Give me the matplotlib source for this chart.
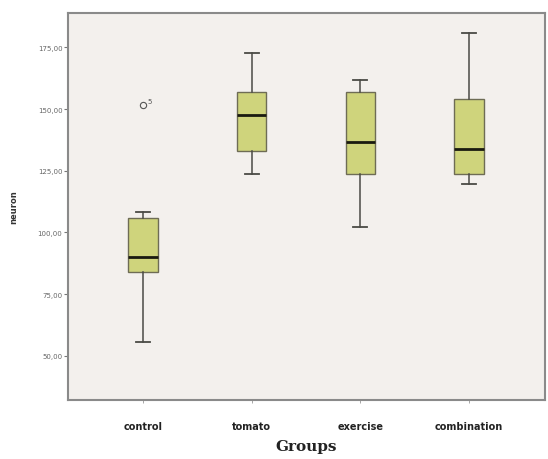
import matplotlib
matplotlib.use("Agg")
import matplotlib.pyplot as plt

# values
groups = ["control", "tomato", "exercise", "combination"]
whislo = [55.7, 123.6, 102.0, 119.5]
q1 = [83.8, 133.0, 123.6, 123.6]
med = [90.1, 147.7, 136.5, 133.7]
q3 = [106.0, 156.7, 156.9, 153.9]
whishi = [108.3, 172.9, 161.8, 180.9]
fliers = [[151.5], [], [], []]
flier_ids = [["5"], [], [], []]

yticks = [50, 75, 100, 125, 150, 175]

stats = []
for i, g in enumerate(groups):
    stats.append(dict(label=g, whislo=whislo[i], q1=q1[i], med=med[i],
                      q3=q3[i], whishi=whishi[i], fliers=fliers[i]))

fig = plt.figure(figsize=(5.48, 4.60), dpi=100)
ax = fig.add_axes([0.124, 0.128, 0.871, 0.842])
ax.set_facecolor("#f3f0ed")

ax.bxp(stats, positions=range(len(groups)), widths=0.27, patch_artist=True,
       boxprops=dict(facecolor="#cfd47c", edgecolor="#6e6c55", linewidth=1.0),
       medianprops=dict(color="#1a1a10", linewidth=2.0),
       whiskerprops=dict(color="#4a4a45", linewidth=1.1),
       capprops=dict(color="#4a4a45", linewidth=1.3),
       capwidths=0.13,
       flierprops=dict(marker="o", markerfacecolor="none",
                       markeredgecolor="#555555", markersize=4.5,
                       markeredgewidth=0.8))

for i, ids in enumerate(flier_ids):
    for v, lab in zip(fliers[i], ids):
        ax.annotate(lab, (i, v), xytext=(3, 2), textcoords="offset points",
                    fontsize=5, color="#555555")

ax.set_xlim(-0.69, 3.70)
ax.set_ylim(32, 189)
ax.set_yticks(yticks)
ax.set_yticklabels(["%d,00" % t for t in yticks], fontsize=5, color="#666666")
ax.set_xticks(range(len(groups)))
ax.set_xticklabels(groups, fontsize=7, fontweight="bold", color="#222222")
ax.tick_params(axis="y", length=3, width=0.8, color="#777777", pad=1)
ax.tick_params(axis="x", length=2, width=0.6, color="#999999", pad=13)

for s in ax.spines.values():
    s.set_color("#8a8a8a")
    s.set_linewidth(1.5)

ax.set_ylabel("neuron", fontsize=6, fontweight="bold", color="#333333", labelpad=14)
ax.set_xlabel("Groups", fontsize=11, fontweight="bold", family="DejaVu Serif",
              color="#222222", labelpad=6)

fig.savefig("out.png", dpi=100, facecolor="white")
